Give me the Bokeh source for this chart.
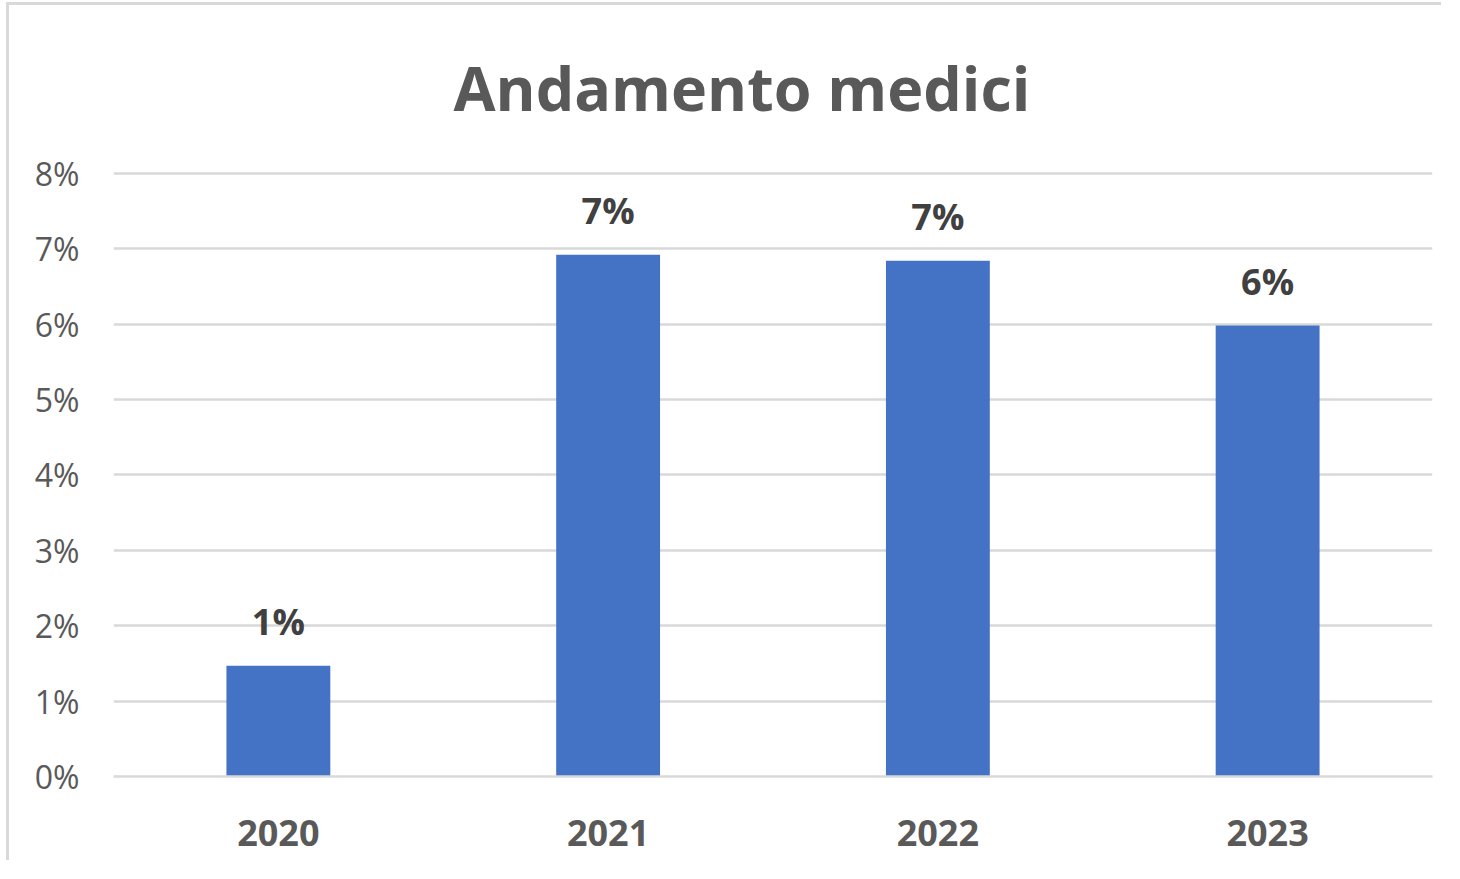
from bokeh.plotting import figure
from bokeh.models import ColumnDataSource, NumeralTickFormatter, FixedTicker, Range1d
from bokeh.core.properties import value
from bokeh.embed import file_html
from bokeh.resources import INLINE

years = ["2020", "2021", "2022", "2023"]
shares = [0.0147, 0.0692, 0.0684, 0.0598]
y_ticks = [0.0, 0.01, 0.02, 0.03, 0.04, 0.05, 0.06, 0.07, 0.08]
title_text = "Andamento medici"

labels = [f"{round(v * 100)}%" for v in shares]
src = ColumnDataSource(dict(x=years, top=shares, label=labels))

FONT = "Open Sans"
p = figure(x_range=years, y_range=Range1d(0, 0.0805), width=1435, height=858,
           output_backend="svg", toolbar_location=None, title=title_text,
           min_border_left=104, min_border_right=12, min_border_top=164, min_border_bottom=87)
p.styles = {"border-left": "3px solid #d9d9d9", "border-top": "3px solid #d9d9d9",
            "margin-left": "6px", "margin-top": "2px"}
p.outline_line_color = None
p.background_fill_color = "white"
p.border_fill_color = "white"

p.title.align = "left"
p.title.vertical_align = "top"
p.title.text_font = FONT
p.title.text_font_style = "bold"
p.title.text_font_size = "61px"
p.title.text_color = "#595959"
p.title.standoff = 78
p.title.offset = 340

p.vbar(x="x", top="top", width=0.315, source=src, color="#4472C4", line_color=None)
p.text(x="x", y="top", text="label", source=src, text_align="center",
       text_baseline="alphabetic", y_offset=-44, text_font=value(FONT),
       text_font_style="bold", text_font_size="36px", text_color="#404040")

p.x_range.range_padding = 0
p.xgrid.grid_line_color = None
p.ygrid.grid_line_color = "#d9d9d9"
p.ygrid.grid_line_width = 2.5
p.ygrid.ticker = FixedTicker(ticks=y_ticks)

p.yaxis.ticker = FixedTicker(ticks=y_ticks)
p.yaxis.formatter = NumeralTickFormatter(format="0%")
p.yaxis.axis_line_color = None
p.yaxis.major_tick_line_color = None
p.yaxis.minor_tick_line_color = None
p.yaxis.major_label_text_font = FONT
p.yaxis.major_label_text_font_size = "32px"
p.yaxis.major_label_text_color = "#595959"
p.yaxis.major_label_standoff = 28

p.xaxis.axis_line_color = "#d9d9d9"
p.xaxis.axis_line_width = 2.5
p.xaxis.major_tick_line_color = None
p.xaxis.minor_tick_line_color = None
p.xaxis.major_label_text_font = FONT
p.xaxis.major_label_text_font_style = "bold"
p.xaxis.major_label_text_font_size = "36px"
p.xaxis.major_label_text_color = "#595959"
p.xaxis.major_label_standoff = 37

open("out.html", "w").write(file_html(p, INLINE))
